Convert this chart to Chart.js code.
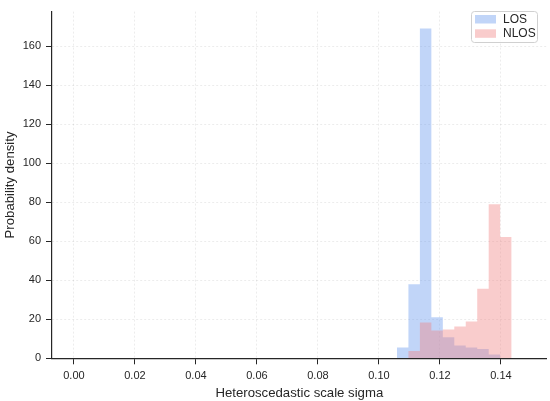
<!DOCTYPE html>
<html>
<head>
<meta charset="utf-8">
<script src="https://cdn.jsdelivr.net/npm/chart.js@4/dist/chart.umd.min.js"></script>
<style>
  body { margin: 0; background: #fff; }
  canvas { display: block; }
</style>
</head>
<body>
<canvas id="hist" width="550" height="401"></canvas>
<script>
// histogram bins shared by both series (edges)
const binEdges = [0.1059, 0.10966, 0.11342, 0.11718, 0.12094, 0.1247, 0.12846, 0.13222, 0.13598, 0.13974, 0.1435]
const losDensity  = [5.5, 38, 169, 21, 10.8, 6.5, 5.5, 4.8, 2, 0]
const nlosDensity = [0, 3.8, 18.3, 14.2, 14.7, 16.3, 18.8, 35.6, 78.9, 62.2]

const xTicks = [0, 0.02, 0.04, 0.06, 0.08, 0.10, 0.12, 0.14]
const yTicks = [0, 20, 40, 60, 80, 100, 120, 140, 160]

const ink = '#262626'
const font = "'Liberation Sans', Arial, sans-serif"

// step outline points: each edge carries the value of the bin on its right
function stepPoints(vals) {
    let pts = []
    for (let i = 0; i < vals.length; i++)
        pts.push({x: binEdges[i], y: vals[i]})
    pts.push({x: binEdges[vals.length], y: vals[vals.length - 1]})
    return pts
}

// legend drawn inside the plot, top right
const boxLegend = {
    id: 'boxLegend',
    afterDraw(chart) {
        const ctx = chart.ctx
        const x = 471.5, y = 11.5, w = 66, h = 31
        ctx.save()
        ctx.beginPath()
        ctx.roundRect(x, y, w, h, 3)
        ctx.fillStyle = 'rgba(255,255,255,0.8)'
        ctx.fill()
        ctx.strokeStyle = '#d0d0d0'
        ctx.lineWidth = 1
        ctx.stroke()
        ctx.font = '12px ' + font
        ctx.textBaseline = 'middle'
        chart.data.datasets.forEach((ds, i) => {
            const sy = 15 + i * 14.3
            ctx.fillStyle = ds.backgroundColor
            ctx.fillRect(475, sy, 21, 8.5)
            ctx.fillStyle = ink
            ctx.fillText(ds.label, 503, sy + 4.5)
        })
        ctx.restore()
    }
}

const data = {
    datasets: [{
        label: 'LOS',
        data: stepPoints(losDensity),
        backgroundColor: 'rgba(100,149,237,0.4)',
        borderColor: 'transparent',
        borderWidth: 0,
        pointRadius: 0,
        stepped: 'before',
        fill: 'origin',
        order: 1
    }, {
        label: 'NLOS',
        data: stepPoints(nlosDensity),
        backgroundColor: 'rgba(240,128,128,0.4)',
        borderColor: 'transparent',
        borderWidth: 0,
        pointRadius: 0,
        stepped: 'before',
        fill: 'origin',
        order: 0
    }]
}

const config = {
    type: 'line',
    data: data,
    options: {
        responsive: false,
        animation: false,
        events: [],
        layout: {padding: {left: 0, right: 3.3, top: 4, bottom: 0}},
        plugins: {legend: {display: false}, tooltip: {enabled: false}},
        scales: {
            x: {
                type: 'linear',
                min: -0.0072,
                max: 0.155,
                afterBuildTicks: s => { s.ticks = xTicks.map(v => ({value: v})) },
                afterFit: s => { s.height = 42.7 },
                grid: {color: 'rgba(0,0,0,0.075)', tickColor: ink, tickLength: 6, tickWidth: 1},
                border: {color: ink, width: 1.2, dash: [2, 2]},
                ticks: {
                    color: ink, padding: 5, maxRotation: 0, autoSkip: false,
                    font: {family: font, size: 11},
                    callback: v => v.toFixed(2)
                },
                title: {
                    display: true, text: 'Heteroscedastic scale sigma', color: ink,
                    font: {family: font, size: 13.2}, padding: {top: 1.5, bottom: 0}
                }
            },
            y: {
                min: 0,
                max: 177.7,
                afterBuildTicks: s => { s.ticks = yTicks.map(v => ({value: v})) },
                afterFit: s => { s.width = 52 },
                grid: {color: 'rgba(0,0,0,0.075)', tickColor: ink, tickLength: 6, tickWidth: 1},
                border: {color: ink, width: 1.2, dash: [2, 2]},
                ticks: {
                    color: ink, padding: 5,
                    font: {family: font, size: 11},
                    callback: v => String(v)
                },
                title: {
                    display: true, text: 'Probability density', color: ink,
                    font: {family: font, size: 13.2}, padding: {top: 2, bottom: 0}
                }
            }
        }
    },
    plugins: [boxLegend]
}

let ch = document.getElementById('hist').getContext('2d')
new Chart(ch, config)
</script>
</body>
</html>
